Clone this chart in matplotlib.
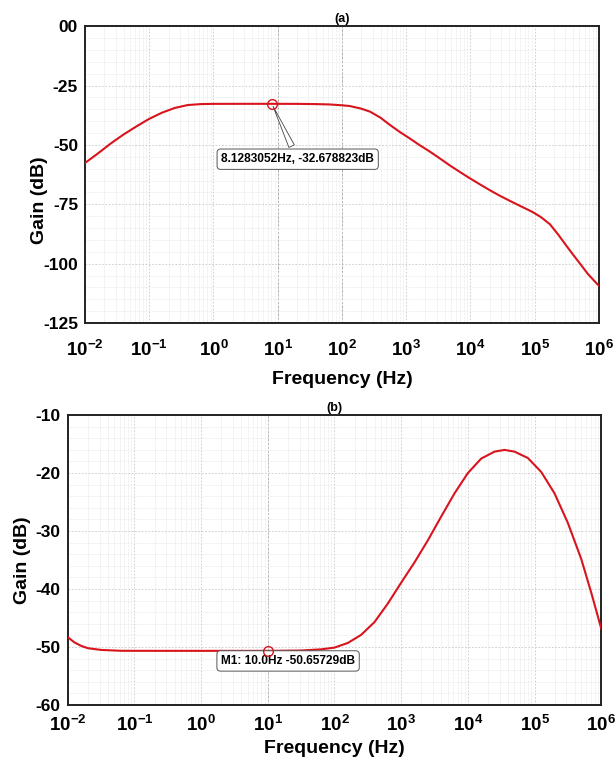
import numpy as np
import matplotlib
matplotlib.use("Agg")
from matplotlib import pyplot as plt
from matplotlib.ticker import FixedLocator, FixedFormatter, LogLocator, NullFormatter, MultipleLocator

plt.rcParams['font.family'] = ['Liberation Sans', 'DejaVu Sans']
plt.rcParams['font.weight'] = 'bold'
plt.rcParams['mathtext.fontset'] = 'custom'
plt.rcParams['mathtext.rm'] = 'Liberation Sans:bold'
plt.rcParams['mathtext.bf'] = 'Liberation Sans:bold'
plt.rcParams['mathtext.default'] = 'bf'

# (a): log10(frequency) and gain in dB
a_logf = [-2.0, -1.8, -1.6, -1.4, -1.2, -1.0, -0.8, -0.6, -0.4, -0.2, 0.0, 0.5, 0.91, 1.3,
          1.6, 1.81, 2.0, 2.12, 2.3, 2.44, 2.6, 2.75, 2.9, 3.06, 3.2, 3.37, 3.5, 3.68, 3.85,
          3.99, 4.15, 4.30, 4.46, 4.62, 4.77, 4.90, 4.98, 5.1, 5.24, 5.37, 5.50, 5.60, 5.70,
          5.83, 5.97, 6.0]
a_gain = [-57.6, -53.6, -49.4, -45.6, -42.2, -39.0, -36.4, -34.4, -33.2, -32.8, -32.7, -32.68, -32.68, -32.7,
          -32.8, -32.95, -33.3, -33.6, -34.7, -36.0, -38.5, -41.6, -44.5, -47.3, -49.9, -52.8, -55.2, -58.6, -61.6,
          -64.0, -66.6, -69.0, -71.4, -73.6, -75.6, -77.3, -78.4, -80.4, -83.4, -87.8, -92.6, -96.2, -99.7,
          -104.3, -108.4, -109.2]
a_yticks = [0, -25, -50, -75, -100, -125]
a_ylabels = ['00', '-25', '-50', '-75', '-100', '-125']
a_marker = (8.1283052, -32.678823)
a_note = '8.1283052Hz, -32.678823dB'

# (b)
b_logf = [-2.0, -1.9, -1.8, -1.7, -1.5, -1.2, -0.5, 0.5, 1.0, 1.5, 1.8, 2.0, 2.2, 2.4, 2.6,
          2.8, 3.0, 3.2, 3.4, 3.6, 3.8, 4.0, 4.2, 4.4, 4.55, 4.7, 4.9, 5.1, 5.3, 5.5, 5.7,
          5.85, 6.0]
b_gain = [-48.3, -49.2, -49.8, -50.2, -50.5, -50.65, -50.66, -50.66, -50.66, -50.6, -50.4, -50.1, -49.3,
          -47.9, -45.7, -42.5, -38.9, -35.4, -31.6, -27.5, -23.5, -20.0, -17.5, -16.3, -16.0, -16.3,
          -17.4, -19.8, -23.5, -28.6, -34.8, -40.6, -46.8]
b_yticks = [-10, -20, -30, -40, -50, -60]
b_ylabels = ['-10', '-20', '-30', '-40', '-50', '-60']
b_marker = (10.0, -50.65729)
b_note = 'M1: 10.0Hz -50.65729dB'

xticks = [10.0**k for k in range(-2, 7)]
xlabels = ['$10^{%d}$' % k for k in range(-2, 7)]
red = '#d8141c'

fig = plt.figure(figsize=(6.16, 7.71), dpi=100)
ax1 = fig.add_axes([0.138, 0.581, 0.834, 0.385])
ax2 = fig.add_axes([0.110, 0.0856, 0.866, 0.376])


def style_axes(ax, yticks, ylabels, ylim, yminor, title, xpad, xlabpad):
    ax.set_xscale('log')
    ax.set_xlim(1e-2, 1e6)
    ax.set_ylim(*ylim)
    ax.xaxis.set_major_locator(FixedLocator(xticks))
    ax.xaxis.set_major_formatter(FixedFormatter(xlabels))
    ax.xaxis.set_minor_locator(LogLocator(base=10, subs=np.arange(2, 10), numticks=20))
    ax.xaxis.set_minor_formatter(NullFormatter())
    ax.yaxis.set_major_locator(FixedLocator(yticks))
    ax.yaxis.set_major_formatter(FixedFormatter(ylabels))
    ax.yaxis.set_minor_locator(MultipleLocator(yminor))
    ax.tick_params(which='both', length=0)
    ax.tick_params(axis='y', labelsize=12.5, pad=5)
    ax.tick_params(axis='x', labelsize=13.5, pad=xpad)
    ax.grid(which='major', color='#c8c8c8', linestyle=(0, (2, 2)), linewidth=0.6)
    ax.grid(which='minor', color='#e2e2e2', linestyle=(0, (1, 1)), linewidth=0.5)
    for s in ax.spines.values():
        s.set_linewidth(1.4)
        s.set_color('#222222')
    ax.set_xlabel('Frequency (Hz)', fontsize=14, fontweight='bold', labelpad=xlabpad)
    ax.set_ylabel('Gain (dB)', fontsize=14, fontweight='bold')
    ax.set_title(title, fontsize=9, fontweight='bold', pad=3)


style_axes(ax1, a_yticks, a_ylabels, (-125, 0), 5, '(a)', 12, 8)
style_axes(ax2, b_yticks, b_ylabels, (-60, -10), 2, '(b)', 7, 4)
ax1.yaxis.set_label_coords(-0.072, 0.414)
ax2.yaxis.set_label_coords(-0.068, 0.5)

for ax, lf, g in [(ax1, a_logf, a_gain), (ax2, b_logf, b_gain)]:
    ax.plot(10.0 ** np.array(lf), g, color=red, linewidth=1.5, zorder=3)

# marker lines
for v in [10, 100]:
    ax1.axvline(v, color='#a0a0a0', linestyle=(0, (2, 2)), linewidth=0.7, zorder=1)
ax2.axvline(10, color='#b0b0b0', linestyle=(0, (2, 2)), linewidth=0.7, zorder=1)

box = dict(boxstyle='round,pad=0.35,rounding_size=0.3', facecolor='white', edgecolor='#555555', linewidth=0.7)
ax1.plot(*a_marker, 'o', markersize=7, markerfacecolor='none', markeredgecolor=red, markeredgewidth=1, zorder=4)
ax1.annotate(a_note, xy=a_marker, xytext=(0.414, 0.552), textcoords='axes fraction',
             fontsize=8.6, fontweight='bold', ha='center', va='center', bbox=box,
             arrowprops=dict(arrowstyle='wedge,tail_width=0.5', facecolor='white', edgecolor='#444444', linewidth=0.6))
ax2.plot(*b_marker, 'o', markersize=7, markerfacecolor='none', markeredgecolor=red, markeredgewidth=1, zorder=4)
ax2.annotate(b_note, xy=b_marker, xytext=(0.413, 0.152), textcoords='axes fraction',
             fontsize=8.6, fontweight='bold', ha='center', va='center', bbox=box,
             arrowprops=dict(arrowstyle='-', color='#555555', linewidth=0.6))

fig.savefig('out.png', dpi=100)
